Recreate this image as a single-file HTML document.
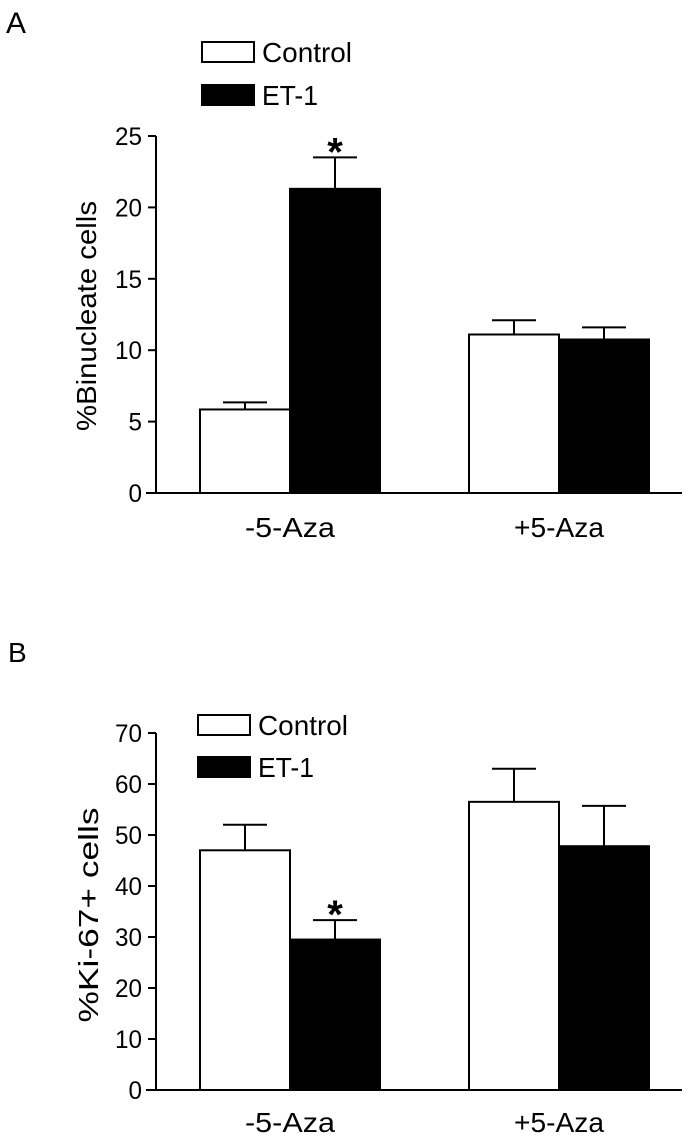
<!DOCTYPE html>
<html><head><meta charset="utf-8"><style>
body{margin:0;background:#fff}
svg text{font-family:"Liberation Sans",Arial,sans-serif;fill:#000}
</style></head><body>
<svg id="s" width="696" height="1136" xmlns="http://www.w3.org/2000/svg">
<text x="6" y="33" font-size="30">A</text>
<text x="8" y="662" font-size="28">B</text>
</svg>
<script>
const categories = ["-5-Aza", "+5-Aza"];
const seriesNames = ["Control", "ET-1"];
const aControl = [5.85, 11.1];
const aControlErr = [0.5, 1.0];
const aET1 = [21.3, 10.75];
const aET1Err = [2.2, 0.85];
const aTicks = [0, 5, 10, 15, 20, 25];
const bControl = [47.0, 56.5];
const bControlErr = [5.0, 6.5];
const bET1 = [29.5, 47.8];
const bET1Err = [3.8, 7.9];
const bTicks = [0, 10, 20, 30, 40, 50, 60, 70];
const aStars = [[0, 1]];
const bStars = [[0, 1]];

const svg = document.getElementById('s');
const NS = 'http://www.w3.org/2000/svg';
function mk(t, a, p) { const e = document.createElementNS(NS, t); for (const k in a) e.setAttribute(k, a[k]); (p || svg).appendChild(e); return e; }

function chart(cfg) {
  const g = mk('g', {});
  
  
  const y = v => cfg.y0 - (v / cfg.max) * (cfg.y0 - cfg.yTop);
  const groupX = i => cfg.gx[0] + i * (cfg.gx[1] - cfg.gx[0]);
  const bw = 90;
  const ya = mk('line', {x1: cfg.ax, x2: cfg.ax, y1: y(0), y2: y(cfg.max), stroke: '#000', 'stroke-width': 2}, g);
  
  
  cfg.ticks.forEach(t => {
    const l = mk('line', {x1: cfg.ax - 8, x2: cfg.ax, y1: y(t), y2: y(t), stroke: '#000', 'stroke-width': 2}, g);
    
    
    const s = String(t);
    const tx = mk('text', {x: cfg.ax - 14, y: y(t) + 9, 'font-size': 25, 'text-anchor': 'end', textLength: 13.5 * s.length, lengthAdjust: 'spacingAndGlyphs'}, g);
    tx.textContent = s;
    
    
  });
  for (let i = 0; i < categories.length; i++) {
    const gx = groupX(i);
    [[cfg.c, cfg.ce, '#fff', 0], [cfg.e, cfg.ee, '#000', 1]].forEach(([vals, errs, fill, s]) => {
      const x0 = gx + s * bw, v = vals[i], top = y(v), et = y(v + errs[i]);
      const cx = x0 + bw / 2;
      const el = mk('line', {x1: cx, x2: cx, y1: top, y2: et, stroke: '#000', 'stroke-width': 2}, g);
      
      
      const cap = mk('line', {x1: cx - 22, x2: cx + 22, y1: et, y2: et, stroke: '#000', 'stroke-width': 2}, g);
      
      
      const r = mk('rect', {x: x0, y: top, width: bw, height: y(0) - top, fill: fill, stroke: '#000', 'stroke-width': 2}, g);
      
      
    });
    const cl = mk('text', {x: gx + bw - 45, y: cfg.catY, 'font-size': 28, textLength: 90, lengthAdjust: 'spacingAndGlyphs'}, g);
    cl.textContent = categories[i];
    
    
  }
  cfg.stars.forEach(([i, s]) => {
    const v = (s ? cfg.e : cfg.c)[i] + (s ? cfg.ee : cfg.ce)[i];
    const st = mk('text', {x: groupX(i) + s * bw + bw / 2, y: y(v) + 8, 'font-size': 40, 'font-weight': 'bold', 'text-anchor': 'middle'}, g);
    st.textContent = '*';
    
    
  });
  const xa = mk('line', {x1: cfg.ax - 10, x2: 682, y1: y(0), y2: y(0), stroke: '#000', 'stroke-width': 2}, g);
  
  
  const yt = mk('text', {x: 0, y: 0, 'font-size': 28, 'text-anchor': 'middle', textLength: cfg.titleLen, lengthAdjust: 'spacingAndGlyphs', transform: `translate(${cfg.titleX},${cfg.titleY}) rotate(-90)`}, g);
  yt.textContent = cfg.title;
  
  
  cfg.leg.forEach(([ly, lh, tl], s) => {
    const r = mk('rect', {x: cfg.legX, y: ly, width: 52, height: lh, fill: s ? '#000' : '#fff', stroke: '#000', 'stroke-width': 2}, g);
    
    
    const t = mk('text', {x: cfg.legX + 60, y: ly + lh, 'font-size': 28, textLength: tl, lengthAdjust: 'spacingAndGlyphs'}, g);
    t.textContent = seriesNames[s];
    
    
  });
}
chart({name: 'chart-a', ax: 156, y0: 493, yTop: 136, max: 25, ticks: aTicks, gx: [200, 469],
  c: aControl, ce: aControlErr, e: aET1, ee: aET1Err, stars: aStars, catY: 537, titleX: 96, titleY: 316, titleLen: 230,
  title: '%Binucleate cells', legX: 202, leg: [[42, 20, 90], [85, 20, 56]]});
chart({name: 'chart-b', ax: 156, y0: 1090, yTop: 733, max: 70, ticks: bTicks, gx: [200, 469],
  c: bControl, ce: bControlErr, e: bET1, ee: bET1Err, stars: bStars, catY: 1132, titleX: 98, titleY: 915, titleLen: 215,
  title: '%Ki-67+  cells', legX: 198, leg: [[715, 20, 90], [757, 20, 56]]});
</script>
</body></html>
